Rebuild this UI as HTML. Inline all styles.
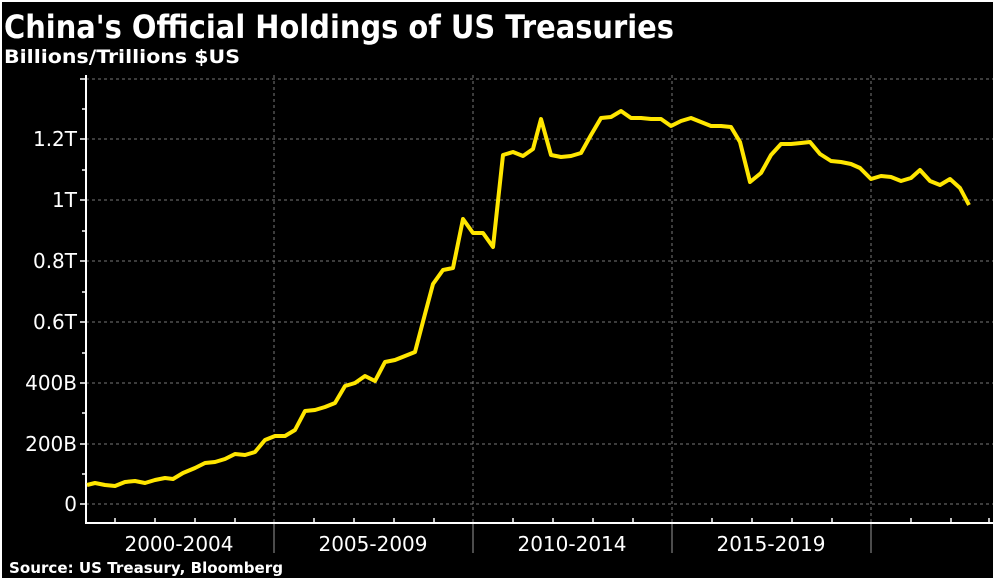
<!DOCTYPE html>
<html><head><meta charset="utf-8"><style>
html,body{margin:0;padding:0;background:#fff;}
svg{display:block;}
</style></head><body>
<svg width="997" height="581" xmlns="http://www.w3.org/2000/svg">
<rect x="0" y="0" width="997" height="581" fill="#fff"/>
<rect x="2" y="2" width="991" height="576" fill="#000"/>
<text x="4" y="38" font-family="DejaVu Sans, sans-serif" font-weight="bold" font-size="32" fill="#fff" textLength="670" lengthAdjust="spacingAndGlyphs">China's Official Holdings of US Treasuries</text>
<text x="4" y="63" font-family="DejaVu Sans, sans-serif" font-weight="bold" font-size="19" fill="#fff" textLength="236" lengthAdjust="spacingAndGlyphs">Billions/Trillions $US</text>
<g stroke="#777" stroke-width="1" stroke-dasharray="3,3">
<line x1="86" y1="79" x2="993" y2="79"/>
<line x1="86" y1="139" x2="993" y2="139"/>
<line x1="86" y1="200" x2="993" y2="200"/>
<line x1="86" y1="261" x2="993" y2="261"/>
<line x1="86" y1="322" x2="993" y2="322"/>
<line x1="86" y1="383" x2="993" y2="383"/>
<line x1="86" y1="444" x2="993" y2="444"/>
<line x1="86" y1="504" x2="993" y2="504"/>
<line x1="274" y1="75" x2="274" y2="523"/>
<line x1="473" y1="75" x2="473" y2="523"/>
<line x1="672" y1="75" x2="672" y2="523"/>
<line x1="871" y1="75" x2="871" y2="523"/>
</g>
<g stroke="#999" stroke-width="1">
<line x1="274" y1="523" x2="274" y2="553"/>
<line x1="473" y1="523" x2="473" y2="553"/>
<line x1="672" y1="523" x2="672" y2="553"/>
<line x1="871" y1="523" x2="871" y2="553"/>
</g>
<g stroke="#fff" stroke-width="2">
<line x1="86" y1="75" x2="86" y2="524"/>
<line x1="85" y1="523" x2="993" y2="523"/>
</g>
<g stroke="#fff" stroke-width="1.5">
<line x1="80" y1="79" x2="86" y2="79"/><line x1="80" y1="139" x2="86" y2="139"/><line x1="80" y1="200" x2="86" y2="200"/><line x1="80" y1="261" x2="86" y2="261"/><line x1="80" y1="322" x2="86" y2="322"/><line x1="80" y1="383" x2="86" y2="383"/><line x1="80" y1="444" x2="86" y2="444"/><line x1="80" y1="504" x2="86" y2="504"/>
<line x1="82" y1="109" x2="86" y2="109"/><line x1="82" y1="170" x2="86" y2="170"/><line x1="82" y1="231" x2="86" y2="231"/><line x1="82" y1="292" x2="86" y2="292"/><line x1="82" y1="353" x2="86" y2="353"/><line x1="82" y1="413" x2="86" y2="413"/><line x1="82" y1="474" x2="86" y2="474"/>
<line x1="115" y1="523" x2="115" y2="518"/><line x1="155" y1="523" x2="155" y2="518"/><line x1="195" y1="523" x2="195" y2="518"/><line x1="235" y1="523" x2="235" y2="518"/>
<line x1="314" y1="523" x2="314" y2="518"/><line x1="354" y1="523" x2="354" y2="518"/><line x1="394" y1="523" x2="394" y2="518"/><line x1="434" y1="523" x2="434" y2="518"/>
<line x1="513" y1="523" x2="513" y2="518"/><line x1="553" y1="523" x2="553" y2="518"/><line x1="593" y1="523" x2="593" y2="518"/><line x1="633" y1="523" x2="633" y2="518"/>
<line x1="712" y1="523" x2="712" y2="518"/><line x1="752" y1="523" x2="752" y2="518"/><line x1="792" y1="523" x2="792" y2="518"/><line x1="832" y1="523" x2="832" y2="518"/>
<line x1="911" y1="523" x2="911" y2="518"/><line x1="951" y1="523" x2="951" y2="518"/><line x1="989" y1="523" x2="989" y2="518"/>
</g>
<g font-family="DejaVu Sans, sans-serif" font-size="20" fill="#fff" text-anchor="end">
<text x="77" y="146">1.2T</text>
<text x="77" y="207">1T</text>
<text x="77" y="268">0.8T</text>
<text x="77" y="329">0.6T</text>
<text x="77" y="390">400B</text>
<text x="77" y="451">200B</text>
<text x="77" y="511">0</text>
</g>
<g font-family="DejaVu Sans, sans-serif" font-size="20" fill="#fff" text-anchor="middle">
<text x="179" y="551">2000-2004</text>
<text x="373" y="551">2005-2009</text>
<text x="572" y="551">2010-2014</text>
<text x="771" y="551">2015-2019</text>
</g>
<text x="9" y="573" font-family="DejaVu Sans, sans-serif" font-weight="bold" font-size="15" fill="#fff" textLength="274" lengthAdjust="spacingAndGlyphs">Source: US Treasury, Bloomberg</text>
<polyline fill="none" stroke="#ffe600" stroke-width="4" stroke-linejoin="round" points="87,485 95,483 105,485 115,486 125,482 135,481 145,483 155,480 165,478 173,479 183,473 195,468 205,463 215,462 225,459 235,454 245,455 255,452 265,440 275,436 285,436 295,430 305,411 315,410 325,407 335,403 345,386 355,383 365,376 375,381 385,362 395,360 405,356 415,352 425,314 433,284 443,270 453,268 463,219 473,233 483,233 493,247 503,155 513,152 523,156 533,149 541,119 551,155 561,157 571,156 581,153 591,135 601,118 611,117 621,111 631,118 641,118 651,119 661,119 671,126 681,121 691,118 701,122 711,126 721,126 731,127 740,142 750,182 761,173 771,155 781,144 791,144 801,143 810,142 820,154 831,161 841,162 851,164 860,168 871,179 881,176 891,177 901,181 911,178 920,170 930,181 940,185 950,179 960,188 969,205"/>
</svg>
</body></html>
